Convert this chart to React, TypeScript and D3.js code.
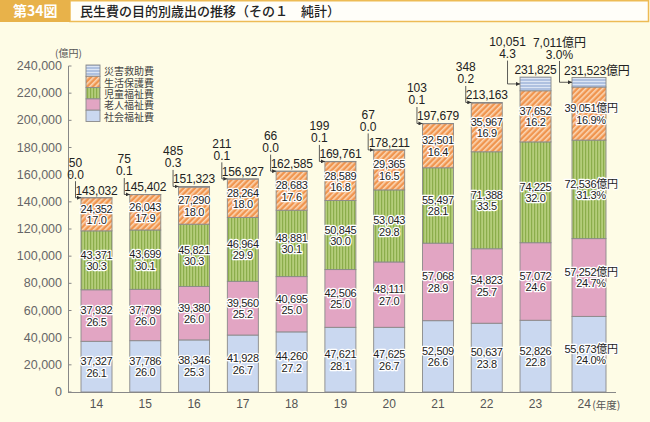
import React from "react";
import * as d3 from "d3";

const years = ["14", "15", "16", "17", "18", "19", "20", "21", "22", "23", "24"];
const shakaiFukushi = [37327, 37786, 38346, 41928, 44260, 47621, 47625, 52509, 50637, 52826, 55673];
const shakaiFukushiPct = ["26.1", "26.0", "25.3", "26.7", "27.2", "28.1", "26.7", "26.6", "23.8", "22.8", "24.0"];
const rojinFukushi = [37932, 37799, 39380, 39560, 40695, 42506, 48111, 57068, 54823, 57072, 57252];
const rojinFukushiPct = ["26.5", "26.0", "26.0", "25.2", "25.0", "25.0", "27.0", "28.9", "25.7", "24.6", "24.7"];
const jidoFukushi = [43371, 43699, 45821, 46964, 48881, 50845, 53043, 55497, 71388, 74225, 72536];
const jidoFukushiPct = ["30.3", "30.1", "30.3", "29.9", "30.1", "30.0", "29.8", "28.1", "33.5", "32.0", "31.3"];
const seikatsuHogo = [24352, 26043, 27290, 28264, 28683, 28589, 29365, 32501, 35967, 37652, 39051];
const seikatsuHogoPct = ["17.0", "17.9", "18.0", "18.0", "17.6", "16.8", "16.5", "16.4", "16.9", "16.2", "16.9"];
const saigaiKyujo = [50, 75, 485, 211, 66, 199, 67, 103, 348, 10051, 7011];
const saigaiKyujoPct = ["0.0", "0.1", "0.3", "0.1", "0.0", "0.1", "0.0", "0.1", "0.2", "4.3", "3.0"];
const totals = [143032, 145402, 151323, 156927, 162585, 169761, 178211, 197679, 213163, 231825, 231523];
const yTickValues = [0, 20000, 40000, 60000, 80000, 100000, 120000, 140000, 160000, 180000, 200000, 220000, 240000];

const seriesNames = ["社会福祉費", "老人福祉費", "児童福祉費", "生活保護費", "災害救助費"];
const seriesKeys = ["shakai", "rojin", "jido", "seikatsu", "saigai"];
const seriesFills = ["#CAD8F0", "#E2A5C3", "url(#pGreen)", "url(#pOrange)", "url(#pSaigai)"];

const JP = "'Noto Sans CJK JP', 'Noto Sans', sans-serif";
const NUM = "'Liberation Sans', 'Noto Sans CJK JP', sans-serif";
const fmt = d3.format(",");

export default function App() {
  const x = d3.scalePoint<string>().domain(years).range([96.5, 584.3]);
  const y = d3.scaleLinear().domain([0, 240000]).range([392, 66]);

  const rows = years.map((yr, i) => ({
    year: yr,
    shakai: shakaiFukushi[i],
    rojin: rojinFukushi[i],
    jido: jidoFukushi[i],
    seikatsu: seikatsuHogo[i],
    saigai: saigaiKyujo[i],
  }));
  const pcts = [shakaiFukushiPct, rojinFukushiPct, jidoFukushiPct, seikatsuHogoPct, saigaiKyujoPct];
  const vals = [shakaiFukushi, rojinFukushi, jidoFukushi, seikatsuHogo, saigaiKyujo];
  const stacked = d3.stack<any>().keys(seriesKeys)(rows as any);

  const last = years.length - 1;
  const barW = (i: number) => (i === last ? 34 : 31);
  const cx = (i: number) => (x(years[i]) as number) + (i === last ? 4.7 : 0);

  const halo = {
    stroke: "#fff",
    strokeWidth: 2.6,
    paintOrder: "stroke" as any,
    strokeLinejoin: "round" as any,
  };

  return (
    <div style={{ position: "absolute", left: 0, top: 0 }}>
      <svg width={650} height={422} style={{ display: "block", fontFamily: NUM }}>
        <defs>
          <pattern id="pGreen" width={3} height={10} patternUnits="userSpaceOnUse">
            <rect width={3} height={10} fill="#B4CD7A" />
            <rect width={1.2} height={10} fill="#8BAD4B" />
          </pattern>
          <pattern id="pOrange" width={4} height={4} patternUnits="userSpaceOnUse" patternTransform="rotate(45)">
            <rect width={4} height={4} fill="#F0954F" />
            <rect width={1.6} height={4} fill="#FBD6B4" />
          </pattern>
          <pattern id="pSaigai" width={10} height={3} patternUnits="userSpaceOnUse">
            <rect width={10} height={3} fill="#AFC1E0" />
            <rect width={10} height={1} fill="#DCE5F4" />
          </pattern>
          <marker id="arr" viewBox="0 0 6 6" refX={6} refY={3} markerWidth={5} markerHeight={5} orient="auto">
            <path d="M0,0L6,3L0,6z" fill="#333" />
          </marker>
        </defs>

        <rect width={650} height={422} fill="#FEFCE6" />

        {/* title */}
        <rect x={70} y={0.75} width={578.5} height={20.75} fill="#FFFEF9" stroke="#EDBB55" strokeWidth={1.5} />
        <rect x={0} y={0} width={70} height={22} fill="#E8B24A" />
        <text x={13} y={16} fill="#fff" fontSize={14} fontWeight={700} fontFamily={JP}>第34図</text>
        <text x={80} y={15.5} fill="#222" fontSize={13} fontWeight={500} fontFamily={JP}>
          民生費の目的別歳出の推移（その１　純計）
        </text>

        {/* y axis */}
        <text x={55} y={52} fontSize={10} fill="#555" dominantBaseline="central" fontFamily={JP}>(億円)</text>
        <line x1={68.5} x2={68.5} y1={y(240000)} y2={y(0)} stroke="#888" strokeWidth={1} />
        {yTickValues.map((v) => (
          <g key={v}>
            <line x1={68.5} x2={71.5} y1={y(v)} y2={y(v)} stroke="#888" />
            <text x={62} y={y(v)} textAnchor="end" dominantBaseline="central" fontSize={12.5} fill="#666">
              {fmt(v)}
            </text>
          </g>
        ))}

        {/* bars */}
        {stacked.map((s, si) => (
          <g key={s.key}>
            {s.map((d, i) => (
              <rect
                key={i}
                x={cx(i) - barW(i) / 2}
                y={y(d[1])}
                width={barW(i)}
                height={y(d[0]) - y(d[1])}
                fill={seriesFills[si]}
                stroke="#8A8A8A"
                strokeWidth={0.9}
              />
            ))}
          </g>
        ))}

        {/* x axis */}
        <line x1={68} x2={616} y1={392.5} y2={392.5} stroke="#888" />
        {years.map((yr) => (
          <text key={yr} x={x(yr)} y={404} textAnchor="middle" dominantBaseline="central" fontSize={12} fill="#555">
            {yr}
          </text>
        ))}
        <text x={(x("24") as number) + 8} y={404} dominantBaseline="central" fontSize={10.5} fill="#555" fontFamily={JP}>
          (年度)
        </text>

        {/* segment labels */}
        {stacked.slice(0, 4).map((s, si) => (
          <g key={s.key}>
            {s.map((d, i) => {
              const cy = (y(d[0]) + y(d[1])) / 2;
              const unit = i === last;
              const tx = cx(i) + (unit ? 2 : 0);
              return (
                <g key={i} fontSize={11} fill="#222" textAnchor="middle" {...halo}>
                  <text x={tx} y={cy - 5.5} dominantBaseline="central" letterSpacing={-0.3}>
                    {fmt(vals[si][i]) + (unit ? "億円" : "")}
                  </text>
                  <text x={tx} y={cy + 6} dominantBaseline="central" letterSpacing={-0.3}>
                    {pcts[si][i] + (unit ? "%" : "")}
                  </text>
                </g>
              );
            })}
          </g>
        ))}

        {/* totals and disaster labels */}
        {years.map((yr, i) => {
          const top = y(totals[i]);
          const left = cx(i) - barW(i) / 2;
          const big = i >= 9;
          const lx = big ? left - 12.5 : left - 5.5;
          const sg = stacked[4][i];
          const targetY = big ? (y(sg[0]) + y(sg[1])) / 2 : top;
          const unit = i === last;
          return (
            <g key={yr} fontSize={12} fill="#222">
              <text x={lx} y={top - 35} textAnchor="middle" dominantBaseline="central">
                {fmt(saigaiKyujo[i]) + (unit ? "億円" : "")}
              </text>
              <text x={lx} y={top - 23} textAnchor="middle" dominantBaseline="central">
                {saigaiKyujoPct[i] + (unit ? "%" : "")}
              </text>
              <path
                d={`M${lx},${top - 16.5}V${targetY}H${left}`}
                fill="none"
                stroke="#333"
                strokeWidth={0.8}
                markerEnd="url(#arr)"
              />
              {unit ? (
                <text x={cx(i) - 25} y={top - 7} dominantBaseline="central" letterSpacing={-0.2}>
                  {fmt(totals[i]) + "億円"}
                </text>
              ) : (
                <text x={cx(i)} y={top - 7} textAnchor="middle" dominantBaseline="central" letterSpacing={-0.2}>
                  {fmt(totals[i])}
                </text>
              )}
            </g>
          );
        })}

        {/* legend */}
        {[4, 3, 2, 1, 0].map((si, k) => (
          <g key={si}>
            <rect x={86} y={65 + k * 11.3} width={14} height={11.3} fill={seriesFills[si]} stroke="#8A8A8A" strokeWidth={0.9} />
            <text x={104} y={65 + k * 11.3 + 5.8} dominantBaseline="central" fontSize={10} fill="#444" fontFamily={JP}>
              {seriesNames[si]}
            </text>
          </g>
        ))}
      </svg>
    </div>
  );
}
